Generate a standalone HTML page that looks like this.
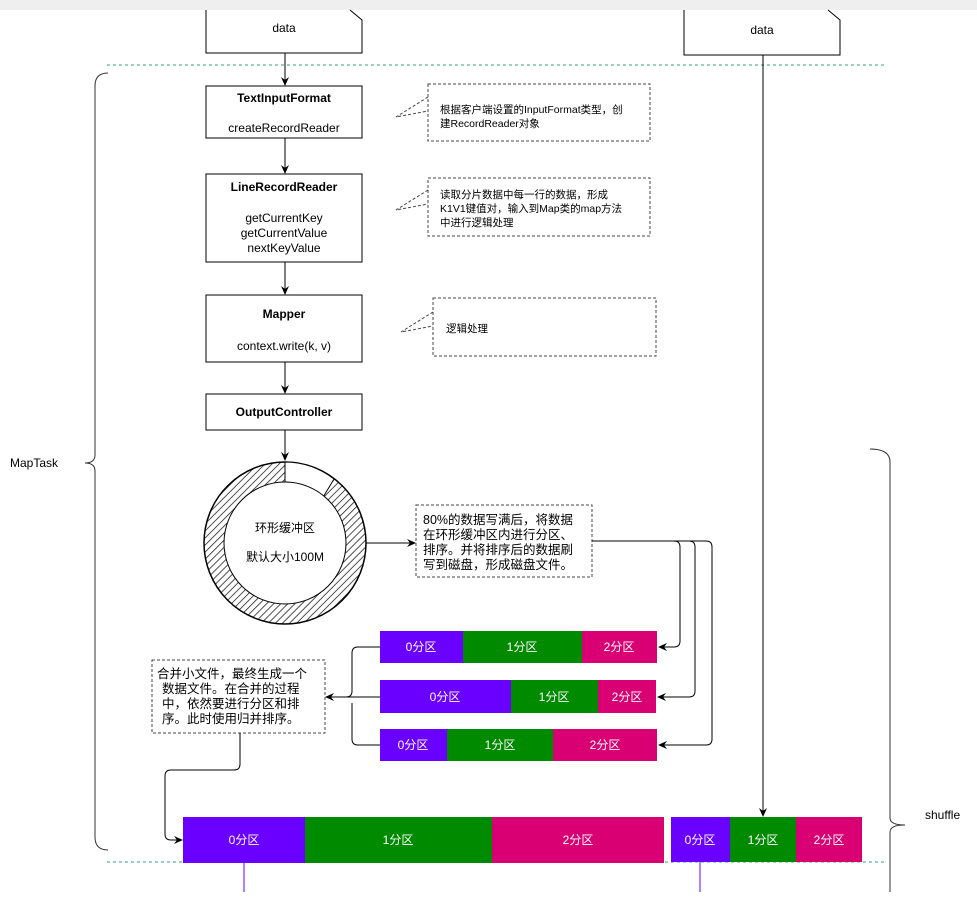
<!DOCTYPE html>
<html><head><meta charset="utf-8"><style>
html,body{margin:0;padding:0;background:#fff;}
svg text{font-family:"Liberation Sans","Noto Sans CJK SC",sans-serif;}
</style></head><body>
<svg width="977" height="892" viewBox="0 0 977 892" xmlns="http://www.w3.org/2000/svg">
<defs>
<marker id="a" markerWidth="10" markerHeight="10" refX="8" refY="5" orient="auto" markerUnits="userSpaceOnUse"><path d="M0,1 L9,5 L0,9 L3,5 Z" fill="#000"/></marker>
<pattern id="h" width="5" height="5" patternUnits="userSpaceOnUse" patternTransform="rotate(45)"><rect width="5" height="5" fill="#fff"/><line x1="0" y1="0" x2="0" y2="5" stroke="#222" stroke-width="1.6"/></pattern>
</defs>
<rect x="0" y="0" width="977" height="10" fill="#efefef"/>
<!-- data boxes -->
<path d="M206,10 V53 H362 V20 L350,10" fill="#fff" stroke="#000"/>
<text x="284" y="32" font-size="12" text-anchor="middle">data</text>
<path d="M684,10 V55 H840 V20 L828,10" fill="#fff" stroke="#000"/>
<text x="762" y="34" font-size="12" text-anchor="middle">data</text>
<!-- dashed separators -->
<line x1="107" y1="65" x2="885" y2="65" stroke="#3aa37a" stroke-dasharray="3,3"/>
<line x1="107" y1="862" x2="885" y2="862" stroke="#3aa37a" stroke-dasharray="3,3"/>
<!-- braces -->
<path d="M108,73 Q95,73 95,86 V455 Q95,463 85,463 Q95,463 95,471 V837 Q95,850 108,850" fill="none" stroke="#333"/>
<text x="10" y="467" font-size="12">MapTask</text>
<path d="M870,449 Q890,449 890,462 V818 Q890,825 905,825 Q890,825 890,832 V892" fill="none" stroke="#333"/>
<text x="925" y="819" font-size="12">shuffle</text>
<!-- vertical arrows -->
<line x1="285" y1="53" x2="285" y2="85" stroke="#000" marker-end="url(#a)"/>
<line x1="285" y1="138" x2="285" y2="173" stroke="#000" marker-end="url(#a)"/>
<line x1="285" y1="262" x2="285" y2="294" stroke="#000" marker-end="url(#a)"/>
<line x1="285" y1="362" x2="285" y2="393" stroke="#000" marker-end="url(#a)"/>
<line x1="285" y1="430" x2="285" y2="460" stroke="#000" marker-end="url(#a)"/>
<line x1="763" y1="55" x2="763" y2="816" stroke="#000" marker-end="url(#a)"/>
<!-- boxes -->
<rect x="206" y="86" width="156" height="52" fill="#fff" stroke="#000"/>
<text x="284" y="102" font-size="12" font-weight="bold" text-anchor="middle">TextInputFormat</text>
<text x="284" y="132" font-size="12" text-anchor="middle">createRecordReader</text>
<rect x="206" y="174" width="156" height="88" fill="#fff" stroke="#000"/>
<text x="284" y="191" font-size="12" font-weight="bold" text-anchor="middle">LineRecordReader</text>
<text x="284" y="222" font-size="12" text-anchor="middle">getCurrentKey</text>
<text x="284" y="237" font-size="12" text-anchor="middle">getCurrentValue</text>
<text x="284" y="252" font-size="12" text-anchor="middle">nextKeyValue</text>
<rect x="206" y="295" width="156" height="67" fill="#fff" stroke="#000"/>
<text x="284" y="318" font-size="12" font-weight="bold" text-anchor="middle">Mapper</text>
<text x="284" y="350" font-size="12" text-anchor="middle">context.write(k, v)</text>
<rect x="206" y="394" width="156" height="36" fill="#fff" stroke="#000"/>
<text x="284" y="416" font-size="12" font-weight="bold" text-anchor="middle">OutputController</text>
<!-- notes -->
<g fill="none" stroke="#444" stroke-dasharray="3,2">
<path d="M428,97 L396,117 L428,111"/><rect x="428" y="84" width="222" height="57"/>
<path d="M428,190 L396,210 L428,204"/><rect x="428" y="178" width="222" height="58"/>
<path d="M433,312 L401,332 L433,326"/><rect x="433" y="298" width="223" height="58"/>
<rect x="416" y="505" width="176" height="72"/>
<rect x="152" y="660" width="173" height="73"/>
</g>
<g font-size="10.5">
<text x="440" y="113">根据客户端设置的InputFormat类型，创</text>
<text x="440" y="127">建RecordReader对象</text>
<text x="440" y="198">读取分片数据中每一行的数据，形成</text>
<text x="440" y="212">K1V1键值对，输入到Map类的map方法</text>
<text x="440" y="226">中进行逻辑处理</text>
<text x="446" y="332">逻辑处理</text>
</g>
<g font-size="12.5">
<text x="423" y="524">80%的数据写满后，将数据</text>
<text x="423" y="539">在环形缓冲区内进行分区、</text>
<text x="423" y="554">排序。并将排序后的数据刷</text>
<text x="423" y="569">写到磁盘，形成磁盘文件。</text>
<text x="157" y="678">合并小文件，最终生成一个</text>
<text x="162" y="693">数据文件。在合并的过程</text>
<text x="162" y="708">中，依然要进行分区和排</text>
<text x="162" y="723">序。此时使用归并排序。</text>
</g>
<!-- ring buffer -->
<circle cx="285" cy="543" r="81" fill="url(#h)" stroke="#000" stroke-width="1.5"/>
<path d="M285,462 A81,81 0 0,1 334,479 L322,499 A61,61 0 0,0 285,482 Z" fill="#fff" stroke="#000"/>
<circle cx="285" cy="543" r="61" fill="#fff" stroke="#000"/>
<text x="285" y="532" font-size="12" text-anchor="middle">环形缓冲区</text>
<text x="285" y="561" font-size="12" text-anchor="middle">默认大小100M</text>
<line x1="366" y1="543" x2="415" y2="543" stroke="#000" marker-end="url(#a)"/>
<!-- distribute connectors -->
<g fill="none" stroke="#000">
<path d="M592,541 H674 Q680,541 680,547 V641 Q680,647 674,647 H659" marker-end="url(#a)"/>
<path d="M592,541 H689 Q695,541 695,547 V691 Q695,697 689,697 H658" marker-end="url(#a)"/>
<path d="M592,541 H706 Q712,541 712,547 V739 Q712,745 706,745 H659" marker-end="url(#a)"/>
<path d="M380,647 H358 Q352,647 352,653 V691 Q352,697 346,697 H326" marker-end="url(#a)"/>
<path d="M380,697 H346"/>
<path d="M380,745 H358 Q352,745 352,739 V703"/>
<path d="M240,733 V764 Q240,770 234,770 H171 Q165,770 165,776 V834 Q165,840 171,840 H182" marker-end="url(#a)"/>
</g>
<!-- partition rows -->
<g font-size="12" fill="#fff" text-anchor="middle">
<rect x="380" y="631" width="83" height="32" fill="#6a00ff"/><rect x="463" y="631" width="119" height="32" fill="#008a00"/><rect x="582" y="631" width="75" height="32" fill="#d80073"/>
<text x="421" y="651">0分区</text><text x="522" y="651">1分区</text><text x="619" y="651">2分区</text>
<rect x="380" y="680" width="131" height="33" fill="#6a00ff"/><rect x="511" y="680" width="87" height="33" fill="#008a00"/><rect x="598" y="680" width="58" height="33" fill="#d80073"/>
<text x="445" y="701">0分区</text><text x="554" y="701">1分区</text><text x="627" y="701">2分区</text>
<rect x="380" y="729" width="67" height="32" fill="#6a00ff"/><rect x="447" y="729" width="106" height="32" fill="#008a00"/><rect x="553" y="729" width="104" height="32" fill="#d80073"/>
<text x="413" y="749">0分区</text><text x="500" y="749">1分区</text><text x="605" y="749">2分区</text>
<rect x="183" y="817" width="122" height="46" fill="#6a00ff"/><rect x="305" y="817" width="187" height="46" fill="#008a00"/><rect x="492" y="817" width="172" height="46" fill="#d80073"/>
<text x="244" y="844">0分区</text><text x="398" y="844">1分区</text><text x="578" y="844">2分区</text>
<rect x="671" y="817" width="59" height="45" fill="#6a00ff"/><rect x="730" y="817" width="66" height="45" fill="#008a00"/><rect x="796" y="817" width="66" height="45" fill="#d80073"/>
<text x="700" y="844">0分区</text><text x="763" y="844">1分区</text><text x="829" y="844">2分区</text>
</g>
<line x1="244" y1="863" x2="244" y2="892" stroke="#6a00ff"/>
<line x1="700" y1="862" x2="700" y2="892" stroke="#6a00ff"/>
</svg>
</body></html>
